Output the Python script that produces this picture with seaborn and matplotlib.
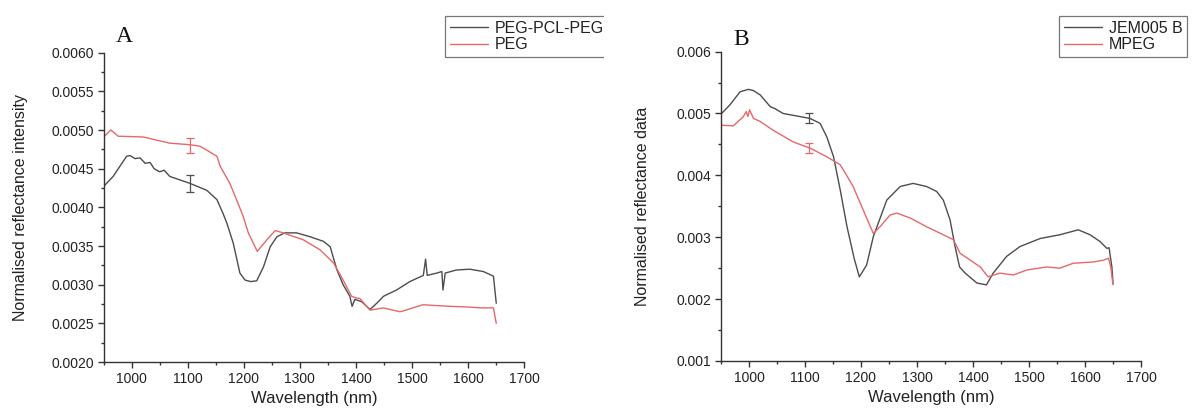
import numpy as np
import pandas as pd
import matplotlib
matplotlib.use("Agg")
import matplotlib.pyplot as plt
import seaborn as sns
from matplotlib.ticker import MultipleLocator, FormatStrFormatter
from matplotlib.transforms import Bbox, TransformedBbox

# ---------------- data ----------------
a_black_x = [950, 967, 991, 997, 1006, 1015, 1024, 1033, 1040, 1050, 1058, 1068, 1080, 1104, 1134, 1152, 1163,
             1170, 1181, 1193, 1202, 1212, 1223, 1235, 1247, 1259, 1273, 1294, 1318, 1342, 1354, 1366, 1377,
             1389, 1393, 1398, 1410, 1425, 1437, 1449, 1472, 1496, 1520, 1524, 1527, 1544, 1553, 1555, 1559,
             1579, 1603, 1627, 1645, 1650]
a_black_y = [0.00427, 0.00440, 0.00466, 0.00467, 0.00463, 0.00464, 0.00457, 0.00458, 0.00450, 0.00446,
             0.00448, 0.00440, 0.00437, 0.00431, 0.00422, 0.00410, 0.00392, 0.00379, 0.00354, 0.00315,
             0.00306, 0.00304, 0.00305, 0.00323, 0.00349, 0.00362, 0.00367, 0.00367, 0.00362, 0.00356,
             0.00349, 0.00319, 0.00300, 0.00285, 0.00272, 0.00281, 0.00278, 0.00268, 0.00276, 0.00285,
             0.00293, 0.00304, 0.00312, 0.00333, 0.00312, 0.00315, 0.00317, 0.00293, 0.00315, 0.00319,
             0.00320, 0.00317, 0.00311, 0.00276]

a_red_x = [950, 963, 976, 1021, 1050, 1068, 1104, 1122, 1134, 1152, 1158, 1175, 1187, 1199, 1208, 1224,
           1241, 1256, 1270, 1306, 1336, 1360, 1377, 1392, 1400, 1407, 1425, 1449, 1478, 1484, 1519, 1568,
           1603, 1621, 1645, 1650]
a_red_y = [0.00491, 0.00500, 0.00492, 0.00491, 0.00486, 0.00483, 0.00481, 0.00479, 0.00474, 0.00466,
           0.00453, 0.00431, 0.00410, 0.00388, 0.00367, 0.00343, 0.00358, 0.00370, 0.00367, 0.00358,
           0.00345, 0.00328, 0.00306, 0.00285, 0.00283, 0.00282, 0.00267, 0.00270, 0.00265, 0.00266,
           0.00274, 0.00272, 0.00271, 0.00270, 0.00270, 0.00250]

b_black_x = [951, 966, 984, 999, 1008, 1020, 1038, 1046, 1061, 1079, 1109, 1127, 1139, 1151, 1163, 1175,
             1188, 1197, 1210, 1222, 1246, 1270, 1293, 1317, 1335, 1347, 1359, 1368, 1376, 1386, 1407,
             1424, 1436, 1460, 1484, 1520, 1555, 1588, 1609, 1627, 1639, 1643, 1648, 1650]
b_black_y = [0.00500, 0.00514, 0.00535, 0.00539, 0.00537, 0.00530, 0.00511, 0.00508, 0.00500, 0.00497,
             0.00492, 0.00484, 0.00462, 0.00430, 0.00376, 0.00317, 0.00265, 0.00236, 0.00255, 0.00301,
             0.00360, 0.00382, 0.00387, 0.00382, 0.00374, 0.00360, 0.00328, 0.00285, 0.00252, 0.00242,
             0.00226, 0.00223, 0.00242, 0.00269, 0.00285, 0.00298, 0.00304, 0.00312, 0.00304, 0.00293,
             0.00282, 0.00283, 0.00252, 0.00225]

b_red_x = [951, 972, 990, 995, 998, 1001, 1008, 1020, 1043, 1079, 1109, 1139, 1163, 1186, 1204, 1222,
           1234, 1252, 1264, 1288, 1317, 1347, 1365, 1377, 1395, 1413, 1427, 1448, 1472, 1496, 1532,
           1555, 1579, 1615, 1633, 1642, 1646, 1650]
b_red_y = [0.00481, 0.00480, 0.00495, 0.00503, 0.00495, 0.00506, 0.00492, 0.00487, 0.00473, 0.00454,
           0.00444, 0.00430, 0.00417, 0.00382, 0.00344, 0.00306, 0.00317, 0.00336, 0.00339, 0.00331,
           0.00317, 0.00304, 0.00296, 0.00274, 0.00263, 0.00252, 0.00236, 0.00242, 0.00239, 0.00247,
           0.00252, 0.00250, 0.00258, 0.00260, 0.00263, 0.00266, 0.00252, 0.00223]

a_err_x = [1104, 1104]
a_err_y = [0.00431, 0.00480]
a_err_e = [0.00011, 0.00010]
b_err_x = [1108, 1108]
b_err_y = [0.00492, 0.00444]
b_err_e = [0.00008, 0.00008]

a_labels = ["PEG-PCL-PEG", "PEG"]
b_labels = ["JEM005 B", "MPEG"]

# ---------------- style ----------------
sns.set_theme(style="ticks")
plt.rcParams["font.family"] = ["Liberation Sans", "DejaVu Sans"]

BLACK = "#4d4d4d"
RED = "#e8676b"
W, H = 1193, 409
fig = plt.figure(figsize=(W / 100, H / 100), dpi=100)

def px_axes(l, r, t, b):
    return fig.add_axes([l / W, (H - b) / H, (r - l) / W, (b - t) / H])

axA = px_axes(103.6, 524.3, 52.7, 362)
axB = px_axes(721, 1141, 51.6, 361)

dfA = pd.concat([pd.DataFrame({"x": a_black_x, "y": a_black_y, "s": a_labels[0]}),
                 pd.DataFrame({"x": a_red_x, "y": a_red_y, "s": a_labels[1]})])
dfB = pd.concat([pd.DataFrame({"x": b_black_x, "y": b_black_y, "s": b_labels[0]}),
                 pd.DataFrame({"x": b_red_x, "y": b_red_y, "s": b_labels[1]})])

for ax, df, labels, ex, ey, ee in [(axA, dfA, a_labels, a_err_x, a_err_y, a_err_e),
                                   (axB, dfB, b_labels, b_err_x, b_err_y, b_err_e)]:
    sns.lineplot(data=df, x="x", y="y", hue="s", palette={labels[0]: BLACK, labels[1]: RED},
                 linewidth=1.0, ax=ax, sort=False, estimator=None)
    for xi, yi, ei, c in zip(ex, ey, ee, [BLACK, RED]):
        ax.errorbar([xi], [yi], yerr=[ei], fmt="none", ecolor=c, elinewidth=0.9, capsize=3, capthick=0.9)
    ax.set_xlim(950, 1700)
    ax.xaxis.set_major_locator(MultipleLocator(100))
    ax.xaxis.set_minor_locator(MultipleLocator(50))
    sns.despine(ax=ax)
    for sp in ["left", "bottom"]:
        ax.spines[sp].set_color("#333333")
        ax.spines[sp].set_linewidth(1.0)
    ax.tick_params(which="major", length=4, width=1, color="#333333", labelsize=10, labelcolor="#222222", pad=3)
    ax.tick_params(which="minor", length=2.5, width=1, color="#333333")
    ax.set_xlabel("Wavelength (nm)", fontsize=12, color="#222222")
    ax.xaxis.label.set_va("baseline")
    ax.xaxis.set_label_coords(0.5, -0.133)
    ax.get_legend().remove()

axA.set_ylim(0.0020, 0.0060)
axA.yaxis.set_major_locator(MultipleLocator(0.0005))
axA.yaxis.set_minor_locator(MultipleLocator(0.00025))
axA.yaxis.set_major_formatter(FormatStrFormatter("%.4f"))
axA.set_ylabel("Normalised reflectance intensity", fontsize=11.5, color="#222222")
axA.yaxis.set_label_coords(-0.18, 0.5)

axB.set_ylim(0.001, 0.006)
axB.yaxis.set_major_locator(MultipleLocator(0.001))
axB.yaxis.set_minor_locator(MultipleLocator(0.0005))
axB.yaxis.set_major_formatter(FormatStrFormatter("%.3f"))
axB.set_ylabel("Normalised reflectance data", fontsize=11.5, color="#222222")
axB.yaxis.set_label_coords(-0.17, 0.5)

# panel letters
fig.text(116 / W, 1 - 42 / H, "A", family="Liberation Serif", fontsize=17, color="#111111")
fig.text(733 / W, 1 - 45 / H, "B", family="Liberation Serif", fontsize=17, color="#111111")

# legends
def add_legend(ax, labels, left_px, clip_px=None):
    handles = [plt.Line2D([], [], color=BLACK, lw=1.0), plt.Line2D([], [], color=RED, lw=1.0)]
    leg = fig.legend(handles, labels, loc="upper left", bbox_to_anchor=(left_px / W, 1 - 16 / H),
                     frameon=True, fancybox=False, fontsize=11.5, borderpad=0.3, labelspacing=0.1,
                     handlelength=2.4, handletextpad=0.4, borderaxespad=0)
    fr = leg.get_frame()
    fr.set_edgecolor("#555555")
    fr.set_linewidth(0.9)
    for t in leg.get_texts():
        t.set_color("#222222")
    if clip_px is not None:
        fr.set_clip_on(True)
        fr.set_clip_box(TransformedBbox(Bbox.from_extents(0, 0, clip_px / W, 1), fig.transFigure))
    return leg

add_legend(axA, a_labels, 445, clip_px=604)
add_legend(axB, b_labels, 1059)

fig.savefig("out.png", dpi=100)
